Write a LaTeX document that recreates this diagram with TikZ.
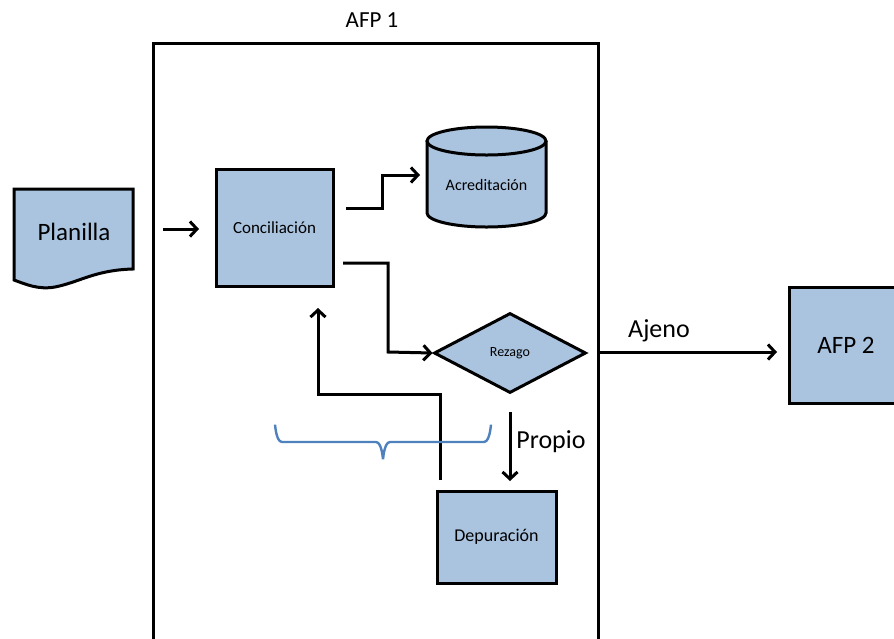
\documentclass[tikz,border=0pt]{standalone}
\usepackage{fontspec}
\setmainfont{Carlito}
\usetikzlibrary{arrows.meta,shapes.geometric}
\definecolor{boxfill}{RGB}{170,196,224}
\definecolor{bracecol}{RGB}{79,129,189}
\tikzset{
  box/.style={draw=black,fill=boxfill,line width=3pt,inner sep=0pt},
  conn/.style={draw=black,line width=3pt,-{Straight Barb[length=7pt,width=15pt,line width=3pt]}},
  lbl/.style={inner sep=0pt,anchor=center}
}
\begin{document}
\begin{tikzpicture}[x=1pt,y=-1pt]
\useasboundingbox (0,0) rectangle (894,638);
% AFP 1 container
\draw[line width=3pt] (153,660) -- (153,43) -- (598,43) -- (598,660);
\node[lbl,font=\fontsize{23}{26}\selectfont] (afp1) at (372,20) {AFP 1};
% Planilla document shape
\draw[box] (14,189) -- (133,189) -- (133,269) .. controls (95,270) and (80,282) .. (55,287) .. controls (38,290) and (25,284) .. (14,280) -- cycle;
\node[lbl,font=\fontsize{25}{29}\selectfont] (plan) at (74,232) {Planilla};
% Conciliacion
\node[box,minimum width=117pt,minimum height=117pt,font=\fontsize{17}{20}\selectfont] (conc) at (274.5,227.5) {Conciliación};
% Acreditacion cylinder
\fill[boxfill] (427,141) -- (427,213) arc(180:0:59.5 and 14) -- (546,141) arc(0:-180:59.5 and 14) -- cycle;
\draw[line width=3pt] (427,141) -- (427,213) arc(180:0:59.5 and 14) -- (546,141);
\draw[line width=3pt] (486.5,141) ellipse [x radius=59.5, y radius=14];
\node[lbl,font=\fontsize{16}{19}\selectfont] (acred) at (486.5,185) {Acreditación};
\coordinate (acredin) at (420,175);
% Rezago diamond
\node[box,diamond,minimum width=152pt,minimum height=80pt,aspect=1.9,font=\fontsize{14}{16}\selectfont] (rez) at (510,353) {Rezago};
% Depuracion
\node[box,minimum width=119pt,minimum height=92pt,font=\fontsize{18}{21}\selectfont] (dep) at (496.5,537) {Depuración};
% AFP 2
\node[box,minimum width=120pt,minimum height=116pt,anchor=north west] (afp2) at (788,286) {};
\node[lbl,font=\fontsize{25}{29}\selectfont] at (846,345) {AFP 2};
% connectors
\coordinate (p1) at (163,229);
\coordinate (p2) at (199,229);
\draw[conn] (p1) -- (p2);
\coordinate (c1) at (346,208);
\draw[conn] (c1) -- (382,208) -- (382,175) -- (acredin);
\coordinate (c2) at (343,263);
\draw[conn] (c2) -- (388,263) -- (388,352) -- (rez.west);
\coordinate (a1) at (598,352);
\coordinate (a2) at (777,352);
\draw[conn] (a1) -- (a2);
\node[lbl,font=\fontsize{26}{30}\selectfont] (ajeno) at (659,331) {Ajeno};
\coordinate (r1) at (510,412);
\coordinate (r2) at (510,481);
\draw[conn] (r1) -- (r2);
\node[lbl,font=\fontsize{26}{30}\selectfont] (propio) at (551,442) {Propio};
\coordinate (f1) at (440,480);
\coordinate (f2) at (318,308);
\draw[conn] (f1) -- (440,394) -- (318,394) -- (f2);
% brace
\draw[bracecol,line width=2.4pt] (275,426) to[out=90,in=180] (282,442) -- (376,442) to[out=0,in=-90] (383,458) to[out=-90,in=180] (390,442) -- (484,442) to[out=0,in=90] (491,426);
\end{tikzpicture}
\end{document}
